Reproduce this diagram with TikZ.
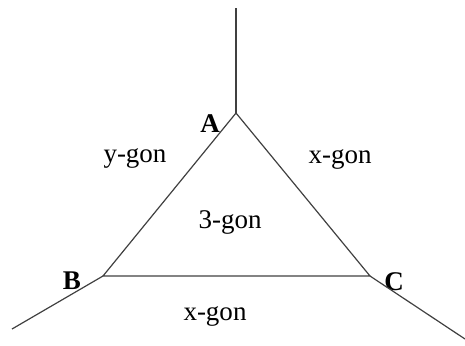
\documentclass[tikz,border=0pt]{standalone}
\usepackage{fontspec}
\setmainfont{Liberation Serif}

\begin{document}
\begin{tikzpicture}[x=0.5pt,y=-0.5pt,
        edge/.style={draw=black!75, line width=0.6pt},
        vlabel/.style={font=\fontsize{13.5}{16}\selectfont\bfseries,
        inner sep=0pt, anchor=base},
        face/.style={font=\fontsize{13.5}{16}\selectfont,
        inner sep=0pt, anchor=base},
        ]
        \useasboundingbox (0,0) rectangle (465,345);

        \coordinate (A) at (236,113);
        \coordinate (B) at (103,276);
        \coordinate (C) at (370,276);
        \coordinate (t) at (236,8);
        \coordinate (bl) at (12,329);
        \coordinate (br) at (465,339);

        \node (la) [vlabel] at (210,132) {A};
        \node (lb) [vlabel] at (72,289) {B};
        \node (lc) [vlabel] at (394,290) {C};

        \node (fy) [face] at (135,162) {y-gon};
        \node (fx1) [face] at (340,163) {x-gon};
        \node (f3) [face] at (230,228) {3-gon};
        \node (fx2) [face] at (215,320) {x-gon};

        \draw[edge] (A) -- (B) -- (C) -- cycle;
        \draw[edge] (A) -- (t);
        \draw[edge] (B) -- (bl);
        \draw[edge] (C) -- (br);
    \end{tikzpicture}
\end{document}
